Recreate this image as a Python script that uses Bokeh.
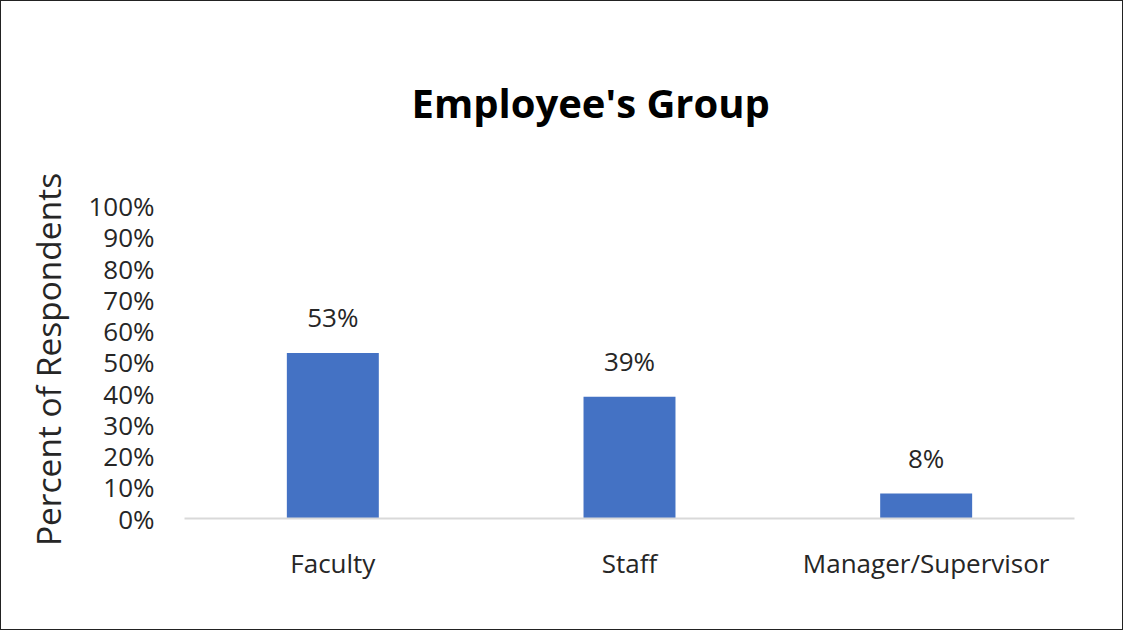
from bokeh.plotting import figure
from bokeh.models import FactorRange, Range1d, FixedTicker, ColumnDataSource, LabelSet, Title
from bokeh.core.properties import value
from bokeh.embed import file_html
from bokeh.resources import INLINE

# ---- data ----
categories = ["Faculty", "Staff", "Manager/Supervisor"]
percents = [53, 39, 8]
bar_labels = ["53%", "39%", "8%"]
y_ticks = [0, 10, 20, 30, 40, 50, 60, 70, 80, 90, 100]
y_tick_labels = ["0%", "10%", "20%", "30%", "40%", "50%", "60%", "70%", "80%", "90%", "100%"]
title_text = "Employee's Group"
y_title = "Percent of Respondents"

FONT = "Open Sans"
TXT = "#262626"

p = figure(
    width=1123, height=630,
    x_range=FactorRange(*categories, range_padding=0),
    y_range=Range1d(0, 101.8),
    output_backend="svg", toolbar_location=None,
    min_border_left=183, min_border_right=50,
    min_border_top=195, min_border_bottom=113,
    styles={"border": "1px solid #222", "box-sizing": "border-box"},
)
p.outline_line_color = None
p.xgrid.grid_line_color = None
p.ygrid.grid_line_color = None
p.background_fill_color = "white"
p.border_fill_color = "white"

src = ColumnDataSource(dict(cat=categories, val=percents, lab=bar_labels))
p.vbar(x="cat", top="val", width=0.31, source=src, fill_color="#4472C4", line_color=None)

labels = LabelSet(x="cat", y="val", text="lab", source=src, y_offset=26,
                  text_align="center", text_baseline="alphabetic",
                  text_font=value(FONT), text_font_size="26px", text_color=TXT)
p.add_layout(labels)

# y axis
ya = p.yaxis[0]
ya.ticker = FixedTicker(ticks=y_ticks)
ya.major_label_overrides = {t: l for t, l in zip(y_ticks, y_tick_labels)}
ya.axis_line_color = None
ya.major_tick_line_color = None
ya.minor_tick_line_color = None
ya.major_tick_out = 0
ya.major_label_standoff = 30
ya.major_label_text_font = FONT
ya.major_label_text_font_size = "26px"
ya.major_label_text_color = TXT
ya.axis_label = y_title
ya.axis_label_text_font = FONT
ya.axis_label_text_font_size = "33.5px"
ya.axis_label_text_font_style = "normal"
ya.axis_label_text_color = TXT
ya.axis_label_standoff = 14

# x axis
xa = p.xaxis[0]
xa.axis_line_color = "#D9D9D9"
xa.axis_line_width = 2
xa.major_tick_line_color = None
xa.minor_tick_line_color = None
xa.major_tick_out = 0
xa.major_label_standoff = 26
xa.major_label_text_font = FONT
xa.major_label_text_font_size = "26px"
xa.major_label_text_color = TXT

# title
p.add_layout(Title(text=title_text, align="left", offset=227, standoff=142,
                   vertical_align="bottom",
                   text_font=FONT, text_font_size="40px", text_font_style="bold",
                   text_color="black"), "above")

open("out.html", "w").write(file_html(p, INLINE))
